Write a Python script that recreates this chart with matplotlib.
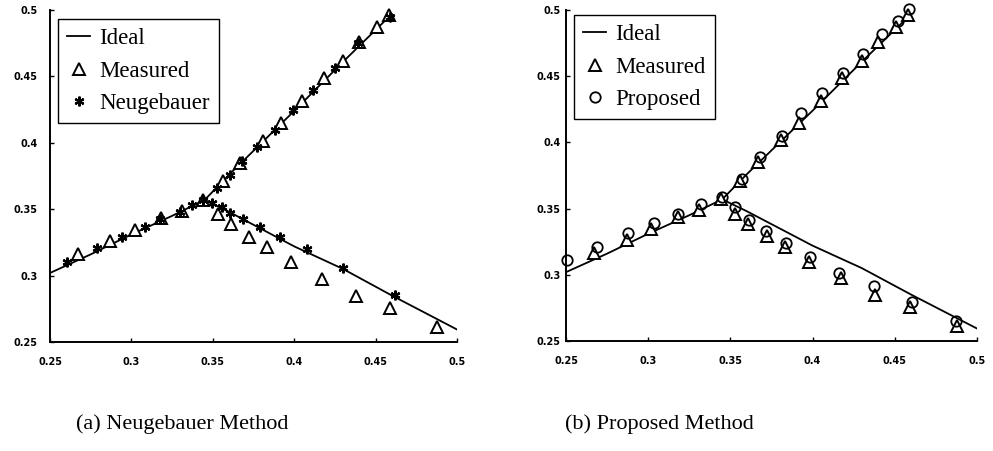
import numpy as np
import matplotlib
matplotlib.use("Agg")
import matplotlib.pyplot as plt

# ideal curve: lower-left branch, upper branch, then (after a break) the lower-right branch
ideal_x = [0.25, 0.275, 0.30, 0.325, 0.345, 0.36, 0.38, 0.40, 0.43, 0.46,
           np.nan, 0.345, 0.36, 0.40, 0.43, 0.46, 0.503]
ideal_y = [0.302, 0.316, 0.331, 0.345, 0.357, 0.376, 0.400, 0.424, 0.461, 0.497,
           np.nan, 0.357, 0.348, 0.322, 0.305, 0.285, 0.2575]

# measured values
meas_x = [0.267, 0.287, 0.302, 0.318, 0.331, 0.344,
          0.356, 0.367, 0.381, 0.392, 0.405, 0.418, 0.430, 0.440, 0.451, 0.458,
          0.353, 0.361, 0.372, 0.383, 0.398, 0.417, 0.438, 0.459, 0.488]
meas_y = [0.3163, 0.3263, 0.3347, 0.3437, 0.3488, 0.3570,
          0.371, 0.385, 0.4015, 0.415, 0.4315, 0.449, 0.4617, 0.4761, 0.4871, 0.4962,
          0.3463, 0.3385, 0.3293, 0.3212, 0.310, 0.2977, 0.285, 0.2757, 0.2612]

# Neugebauer corrected values
neug_x = [0.2602, 0.2787, 0.2940, 0.3084, 0.3176, 0.3299, 0.3370, 0.3442,
          0.3524, 0.3606, 0.368, 0.377, 0.3882, 0.3995, 0.4117, 0.4251, 0.4394, 0.4588,
          0.3493, 0.3554, 0.3606, 0.3687, 0.3789, 0.3912, 0.4076, 0.4301, 0.4619]
neug_y = [0.3105, 0.3206, 0.3288, 0.3364, 0.3424, 0.3481, 0.3532, 0.3569,
          0.3657, 0.3758, 0.386, 0.397, 0.4096, 0.4247, 0.4398, 0.4561, 0.4749, 0.4950,
          0.3544, 0.3519, 0.3469, 0.3424, 0.3368, 0.3293, 0.3200, 0.3055, 0.2854]

# proposed method values
prop_x = [0.2504, 0.2687, 0.2879, 0.3035, 0.3183, 0.3319, 0.3447,
          0.3569, 0.3680, 0.3812, 0.3929, 0.4059, 0.4187, 0.4309, 0.4420, 0.4521, 0.4587,
          0.3528, 0.3615, 0.3717, 0.3838, 0.3984, 0.4162, 0.4373, 0.4602, 0.4872]
prop_y = [0.3112, 0.3212, 0.3318, 0.3389, 0.3459, 0.3532, 0.3590,
          0.3721, 0.3892, 0.4048, 0.4220, 0.4371, 0.4522, 0.4665, 0.4816, 0.4919, 0.5005,
          0.3514, 0.3414, 0.3333, 0.3243, 0.3137, 0.3016, 0.2915, 0.2797, 0.2653]

ticks = [0.25, 0.3, 0.35, 0.4, 0.45, 0.5]
tick_labels = ["0.25", "0.3", "0.35", "0.4", "0.45", "0.5"]

fig = plt.figure(figsize=(9.93, 4.51), dpi=100)
ax1 = fig.add_axes([0.0504, 0.2417, 0.4098, 0.7361])
ax2 = fig.add_axes([0.5700, 0.2439, 0.4139, 0.7339])


def style_axes(ax, ypad):
    ax.set_xlim(0.25, 0.5)
    ax.set_ylim(0.25, 0.5)
    for side in ["top", "right"]:
        ax.spines[side].set_visible(False)
    for side in ["left", "bottom"]:
        ax.spines[side].set_linewidth(1.4)
    ax.set_xticks(ticks)
    ax.set_yticks(ticks)
    ax.set_xticklabels(tick_labels)
    ax.set_yticklabels(tick_labels)
    ax.tick_params(direction="in", length=3, width=1.0, labelsize=7)
    ax.tick_params(axis="x", pad=11)
    ax.tick_params(axis="y", pad=ypad)
    for lab in ax.get_xticklabels() + ax.get_yticklabels():
        lab.set_fontweight("bold")


serif = "Liberation Serif"
leg_kw = dict(loc="upper left", frameon=True, fancybox=False, edgecolor="black",
              framealpha=1, handlelength=1.0, handletextpad=0.4, borderpad=0.4,
              borderaxespad=0, labelspacing=0.5, prop={"family": serif, "size": 16.5})

# (a) Neugebauer
ax1.plot(ideal_x, ideal_y, color="black", lw=1.3, label="Ideal")
ax1.plot(meas_x, meas_y, ls="none", marker="^", ms=8, mfc="white", mec="black",
         mew=1.4, label="Measured", clip_on=False)
ax1.plot(neug_x, neug_y, ls="none", marker=(6, 2, 0), ms=7, mew=1.6, color="black",
         label="Neugebauer", clip_on=False)
style_axes(ax1, 9)
leg = ax1.legend(bbox_to_anchor=(0.0197, 0.973), **leg_kw)
leg.get_frame().set_linewidth(1.0)

# (b) Proposed
ax2.plot(ideal_x, ideal_y, color="black", lw=1.3, label="Ideal")
ax2.plot(meas_x, meas_y, ls="none", marker="^", ms=8, mfc="white", mec="black",
         mew=1.4, label="Measured", clip_on=False)
ax2.plot(prop_x, prop_y, ls="none", marker="o", ms=7.5, mfc="none", mec="black",
         mew=1.3, label="Proposed", clip_on=False)
style_axes(ax2, 4)
leg = ax2.legend(bbox_to_anchor=(0.0195, 0.985), **leg_kw)
leg.get_frame().set_linewidth(1.0)

fig.text(0.183, 0.06, "(a) Neugebauer Method", ha="center", va="center",
         family=serif, fontsize=16)
fig.text(0.664, 0.06, "(b) Proposed Method", ha="center", va="center",
         family=serif, fontsize=16)

fig.savefig("out.png", dpi=100)
